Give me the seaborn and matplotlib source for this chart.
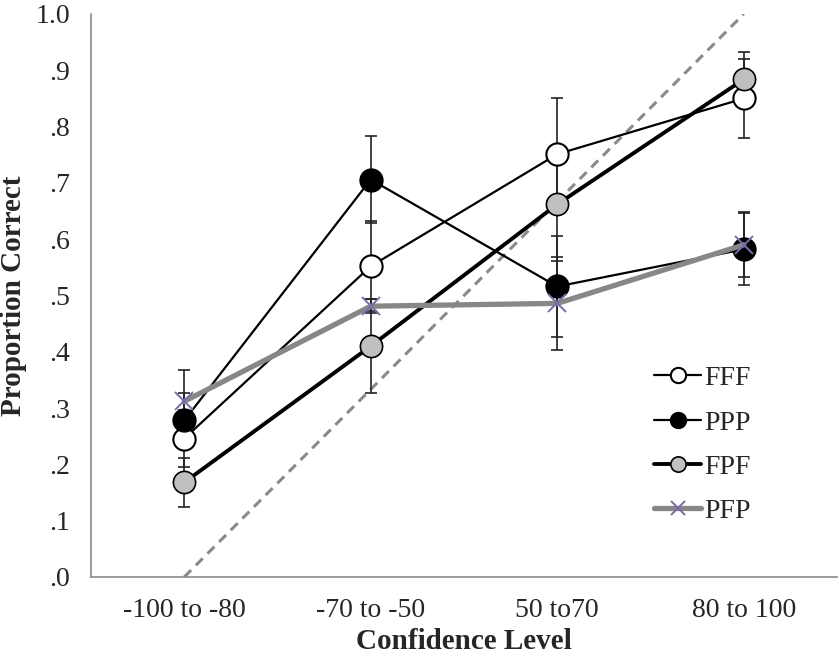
import numpy as np
import pandas as pd
import matplotlib
matplotlib.use("Agg")
import matplotlib.pyplot as plt
import seaborn as sns

# data
levels = ["-100 to -80", "-70 to -50", "50 to70", "80 to 100"]
fff = [0.246, 0.552, 0.751, 0.850]
ppp = [0.278, 0.706, 0.516, 0.582]
fpf = [0.168, 0.410, 0.662, 0.884]
pfp = [0.312, 0.481, 0.486, 0.590]
fff_err = [0.050, 0.080, 0.100, 0.070]
ppp_err = [0.048, 0.077, 0.090, 0.064]
fpf_err = [0.044, 0.084, 0.100, 0.048]
pfp_err = [0.056, 0.012, 0.082, 0.058]
yticks = [0.0, 0.1, 0.2, 0.3, 0.4, 0.5, 0.6, 0.7, 0.8, 0.9, 1.0]
ytick_labels = [".0", ".1", ".2", ".3", ".4", ".5", ".6", ".7", ".8", ".9", "1.0"]

sns.set_style("white")
plt.rcParams['font.family'] = ['Liberation Serif', 'DejaVu Serif']

xpos = np.arange(len(levels))
df = pd.DataFrame({"x": np.tile(xpos, 4),
                   "y": fff + ppp + fpf + pfp,
                   "err": fff_err + ppp_err + fpf_err + pfp_err,
                   "group": np.repeat(["FFF", "PPP", "FPF", "PFP"], 4)})

styles = {
    "FFF": dict(color="black", lw=1.6, marker="o", mfc="white", mec="black", ms=16, mew=1.5),
    "PPP": dict(color="black", lw=1.6, marker="o", mfc="black", mec="black", ms=16, mew=1.5),
    "FPF": dict(color="black", lw=2.8, marker="o", mfc="#c0c0c0", mec="black", ms=16, mew=1.2),
    "PFP": dict(color="#878787", lw=3.8, marker="x", mfc="#7b6aa8", mec="#7b6aa8", ms=13, mew=1.4),
}

fig = plt.figure(figsize=(8.39, 6.56), dpi=100)
ax = fig.add_axes([91/839, 1 - 577/656, 746/839, 563/656])

# identity reference line
ax.plot([0, 3], [0, 1.0], ls=(0, (3.2, 2.2)), color="#8a8a8a", lw=2.2, zorder=1)

for name in ["FFF", "PPP", "FPF", "PFP"]:
    sub = df[df["group"] == name]
    ax.errorbar(sub["x"], sub["y"], yerr=sub["err"], fmt="none", ecolor="#222222",
                elinewidth=1.2, capsize=4, capthick=1.2, zorder=2)

for name in ["FFF", "PPP", "FPF", "PFP"]:
    sub = df[df["group"] == name]
    s = styles[name]
    sns.lineplot(data=sub, x="x", y="y", ax=ax, color=s["color"], linewidth=s["lw"],
                 marker=s["marker"], markerfacecolor=s["mfc"], markeredgecolor=s["mec"],
                 markersize=s["ms"], markeredgewidth=s["mew"], label=name, zorder=3,
                 sort=False, errorbar=None)

ax.set_xlim(-0.5, 3.5)
ax.set_ylim(0, 1.0)
ax.set_yticks(yticks)
ax.set_yticklabels(ytick_labels, fontsize=20)
ax.set_xticks(xpos)
ax.set_xticklabels(levels, fontsize=20)
ax.set_xticks(np.arange(-0.5, 4.0, 1.0), minor=True)
ax.tick_params(axis="x", which="major", length=0, pad=15)
ax.tick_params(axis="x", which="minor", length=7, color="#8a8a8a", width=1.2, direction="out")
ax.tick_params(axis="y", length=7, color="#8a8a8a", width=1.2, direction="out", pad=8)

for side in ["top", "right"]:
    ax.spines[side].set_visible(False)
for side in ["left", "bottom"]:
    ax.spines[side].set_color("#8a8a8a")
    ax.spines[side].set_linewidth(1.2)

ax.set_xlabel("Confidence Level", fontsize=21, fontweight="bold", labelpad=4)
ax.set_ylabel("Proportion Correct", fontsize=21, fontweight="bold", labelpad=6)

leg = ax.legend(loc="upper left", bbox_to_anchor=(0.74, 0.395), frameon=False,
                fontsize=20, handlelength=1.7, handletextpad=0.1, labelspacing=0.68,
                borderaxespad=0)
for h in leg.legend_handles:
    h.set_markersize(11 if h.get_marker() == "o" else 10)

fig.savefig("out.png", dpi=100)
